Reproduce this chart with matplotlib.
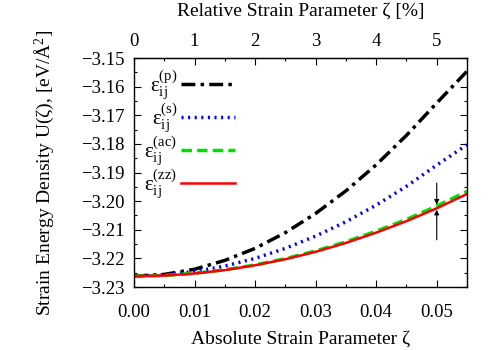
import numpy as np
import matplotlib
matplotlib.use("Agg")
import matplotlib.pyplot as plt
from matplotlib.ticker import MultipleLocator, FixedLocator, FuncFormatter

plt.rcParams['font.family'] = ['Liberation Serif', 'DejaVu Serif']
plt.rcParams['mathtext.fontset'] = 'custom'
plt.rcParams['mathtext.rm'] = 'Liberation Serif'
plt.rcParams['mathtext.it'] = 'Liberation Serif:italic'

zeta = [0.000, 0.005, 0.010, 0.015, 0.020, 0.025, 0.030, 0.035, 0.040, 0.045, 0.050, 0.055]
u_p = [-3.2262, -3.2256, -3.2238, -3.2207, -3.2165, -3.2110, -3.2043, -3.1964, -3.1873, -3.1770, -3.1657, -3.1546]
u_s = [-3.2262, -3.2258, -3.2246, -3.2227, -3.2200, -3.2165, -3.2122, -3.2072, -3.2014, -3.1948, -3.1874, -3.1803]
u_ac = [-3.2262, -3.2260, -3.2252, -3.2240, -3.2223, -3.2201, -3.2174, -3.2142, -3.2105, -3.2064, -3.2017, -3.1966]
u_zz = [-3.2262, -3.2260, -3.2253, -3.2241, -3.2224, -3.2203, -3.2177, -3.2146, -3.2110, -3.2070, -3.2025, -3.1975]
labels = ['$\\mathrm{ε_{ij}^{(p)}}$', '$\\mathrm{ε_{ij}^{(s)}}$',
          '$\\mathrm{ε_{ij}^{(ac)}}$', '$\\mathrm{ε_{ij}^{(zz)}}$']
top_ticks = [0, 1, 2, 3, 4, 5]
top_minor = [0.5, 1.5, 2.5, 3.5, 4.5, 5.5]
arrow_zeta = 0.05

fig = plt.figure(figsize=(5, 3.5), dpi=100)
ax = fig.add_axes([0.268, 0.18, 0.666, 0.654])

ax.plot(zeta, u_p, color='black', lw=2.5, linestyle=(0, (4, 1.5, 1, 1.5)), label=labels[0])
ax.plot(zeta, u_s, color='#0000ff', lw=2.5, linestyle=(0, (0.6, 1.3)), label=labels[1])
ax.plot(zeta, u_ac, color='#00e000', lw=2.5, linestyle=(0, (3, 1.5)), label=labels[2])
ax.plot(zeta, u_zz, color='#ff0000', lw=1.8, linestyle='-', label=labels[3])

g = np.interp(arrow_zeta, zeta, u_ac)
r = np.interp(arrow_zeta, zeta, u_zz)
ax.annotate('', xy=(arrow_zeta, g + 0.0005), xytext=(arrow_zeta, g + 0.008),
            arrowprops=dict(arrowstyle='-|>', color='black', lw=0.8, mutation_scale=7, shrinkA=0, shrinkB=0))
ax.annotate('', xy=(arrow_zeta, r - 0.0005), xytext=(arrow_zeta, r - 0.0110),
            arrowprops=dict(arrowstyle='-|>', color='black', lw=0.8, mutation_scale=7, shrinkA=0, shrinkB=0))

fmt = FuncFormatter(lambda v, p: ('%.2f' % v).replace('-', '\u2212'))
ax.set_xlim(0, 0.055)
ax.set_ylim(-3.23, -3.15)
ax.xaxis.set_major_locator(MultipleLocator(0.01))
ax.xaxis.set_minor_locator(MultipleLocator(0.005))
ax.yaxis.set_major_locator(MultipleLocator(0.01))
ax.yaxis.set_minor_locator(MultipleLocator(0.005))
ax.xaxis.set_major_formatter(fmt)
ax.yaxis.set_major_formatter(fmt)
ax.tick_params(which='both', direction='in', top=False, right=True, labelsize=13.5)
ax.tick_params(axis='x', pad=12)
ax.tick_params(axis='y', pad=7)
ax.tick_params(which='major', length=5, width=0.8)
ax.tick_params(which='minor', length=2.5, width=0.8)
for s in ax.spines.values():
    s.set_linewidth(1.0)

ax.set_xlabel('Absolute Strain Parameter ζ', fontsize=14, labelpad=7)
ax.set_ylabel('Strain Energy Density U(ζ), [eV/Å$^2$]', fontsize=14)
ax.yaxis.set_label_coords(-0.235, 0.5)

sec = ax.secondary_xaxis('top', functions=(lambda x: x * 100, lambda x: x / 100))
sec.xaxis.set_major_locator(FixedLocator(top_ticks))
sec.xaxis.set_minor_locator(FixedLocator(top_minor))
sec.xaxis.set_major_formatter(FuncFormatter(lambda v, p: '%d' % round(v)))
sec.tick_params(which='both', direction='in', labelsize=13.5, pad=5.5)
sec.tick_params(which='major', length=5, width=0.8)
sec.tick_params(which='minor', length=2.5, width=0.8)
sec.set_xlabel('Relative Strain Parameter ζ [%]', fontsize=14, labelpad=12.5)

leg = ax.legend(loc='upper left', markerfirst=False, frameon=False, fontsize=15,
                handlelength=2.6, handletextpad=0.15, labelspacing=0.0,
                borderaxespad=0.1, borderpad=0.4)

fig.savefig('out.png', dpi=100)
